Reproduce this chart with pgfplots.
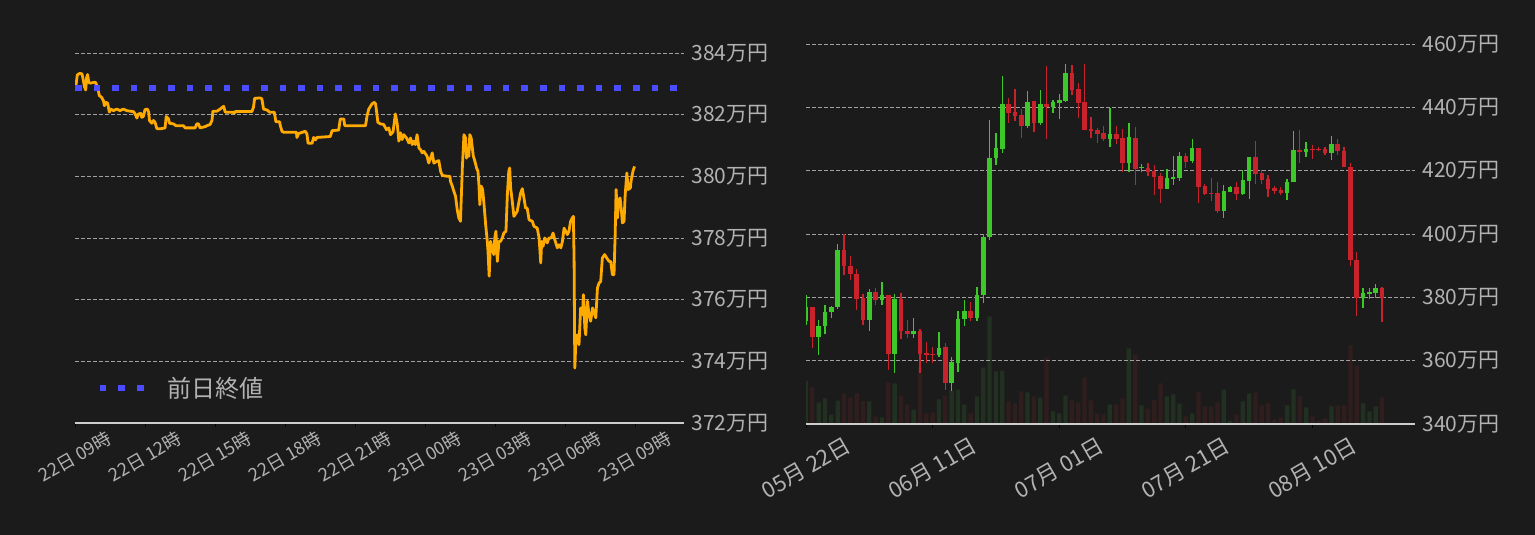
\documentclass[border=0pt]{standalone}
\usepackage{pgfplots}
\pgfplotsset{compat=1.18}
\usepackage{pgfplotstable}
\usepackage{fontspec}
\setmainfont{Noto Sans CJK JP}
\definecolor{bg}{RGB}{27,27,27}
\definecolor{lbl}{RGB}{178,178,178}
\definecolor{gridc}{RGB}{160,160,160}
\definecolor{axc}{RGB}{205,205,205}
\definecolor{orng}{RGB}{255,170,0}
\definecolor{blu}{RGB}{75,75,255}
\definecolor{cgreen}{RGB}{60,200,40}
\definecolor{cred}{RGB}{200,35,45}
\definecolor{vgreen}{RGB}{33,48,33}
\definecolor{vred}{RGB}{48,30,30}

\pgfplotstableread{
h v
0.04 382.94
0.10 383.29
0.21 383.34
0.30 383.32
0.36 383.10
0.41 382.89
0.46 382.80
0.50 383.21
0.54 383.30
0.59 383.05
0.64 383.02
0.86 383.05
0.90 383.02
1.00 382.78
1.04 382.62
1.14 382.56
1.22 382.45
1.26 382.29
1.33 382.40
1.40 382.37
1.47 382.08
1.53 382.18
1.65 382.13
1.79 382.18
1.93 382.13
2.07 382.18
2.22 382.13
2.36 382.11
2.50 382.10
2.58 382.02
2.65 381.89
2.72 382.02
2.82 382.04
2.86 381.91
2.93 381.94
3.00 382.16
3.10 382.18
3.16 382.08
3.19 381.81
3.29 381.72
3.36 381.81
3.43 381.75
3.51 381.54
3.65 381.54
3.86 381.57
3.91 381.94
4.01 381.86
4.05 381.72
4.22 381.70
4.33 381.64
4.65 381.64
4.72 381.57
5.15 381.57
5.22 381.70
5.29 381.70
5.36 381.57
5.58 381.61
5.65 381.64
5.79 381.68
5.87 381.81
5.91 382.11
6.08 382.11
6.22 382.18
6.37 382.27
6.44 382.08
6.77 382.08
6.82 382.04
6.87 382.10
7.58 382.10
7.65 382.24
7.70 382.53
7.94 382.54
8.01 382.51
8.08 382.18
8.23 382.15
8.34 382.08
8.54 382.08
8.61 381.77
8.77 381.77
8.80 381.64
8.87 381.46
8.94 381.43
9.49 381.43
9.51 381.26
9.59 381.39
9.87 381.46
9.94 381.37
9.99 381.07
10.16 381.07
10.23 381.26
10.30 381.18
10.37 381.26
10.94 381.29
11.02 381.48
11.30 381.50
11.37 381.86
11.52 381.86
11.56 381.64
12.45 381.64
12.52 381.97
12.59 382.18
12.73 382.35
12.83 382.40
12.88 382.35
12.92 382.13
12.98 381.75
13.09 381.70
13.23 381.68
13.35 381.51
13.45 381.57
13.52 381.35
13.63 381.44
13.73 382.02
13.81 381.70
13.88 381.14
13.95 381.41
14.02 381.19
14.09 381.35
14.21 381.24
14.31 381.08
14.38 381.24
14.45 381.03
14.52 381.14
14.59 381.03
14.66 381.35
14.74 380.92
14.81 380.86
14.88 380.76
14.95 380.81
15.09 380.65
15.16 380.43
15.24 380.59
15.31 380.76
15.38 380.43
15.52 380.49
15.59 380.51
15.67 380.16
15.74 380.03
15.95 380.00
16.07 380.00
16.09 379.84
16.17 379.68
16.24 379.51
16.31 379.35
16.38 378.92
16.45 378.65
16.52 378.54
16.60 380.27
16.67 381.35
16.74 381.24
16.78 380.59
16.85 380.92
16.88 380.65
16.92 381.35
16.98 381.24
17.07 380.65
17.12 380.54
17.21 380.27
17.27 380.16
17.31 379.73
17.35 379.08
17.41 379.68
17.47 379.57
17.53 379.08
17.60 378.43
17.67 377.89
17.70 377.57
17.75 376.76
17.81 377.89
17.88 377.68
17.95 377.46
17.99 378.00
18.04 378.22
18.10 377.24
18.17 377.89
18.24 377.89
18.31 378.00
18.38 378.16
18.47 378.22
18.53 379.41
18.59 380.16
18.63 380.27
18.67 379.62
18.74 379.19
18.81 378.70
18.95 378.86
19.03 379.19
19.10 379.46
19.17 379.60
19.24 379.30
19.31 378.97
19.38 378.97
19.46 378.59
19.60 378.54
19.67 378.38
19.81 378.32
19.89 378.00
19.96 377.19
20.00 377.89
20.06 377.73
20.13 378.00
20.24 377.84
20.31 378.00
20.41 378.00
20.49 378.16
20.56 377.95
20.67 377.68
20.74 377.78
20.82 377.68
20.89 377.89
20.96 378.32
21.03 378.22
21.10 378.11
21.17 378.22
21.24 378.54
21.31 378.65
21.36 378.70
21.39 377.24
21.42 373.78
21.46 374.54
21.53 374.86
21.60 374.54
21.67 375.73
21.75 375.51
21.79 376.16
21.85 375.08
21.89 374.86
21.96 375.95
22.03 375.51
22.10 375.30
22.18 375.73
22.32 375.41
22.39 376.38
22.46 376.54
22.53 376.59
22.60 377.35
22.70 377.46
22.79 377.35
22.89 377.24
22.96 377.24
23.03 376.81
23.10 376.81
23.15 378.11
23.19 379.57
23.25 378.65
23.29 379.19
23.36 379.30
23.42 378.86
23.46 378.49
23.53 378.54
23.58 379.41
23.65 380.11
23.71 379.57
23.80 379.62
23.83 379.84
23.91 380.16
23.98 380.32
}\pricetab

\pgfplotstableread{
d o h l c v
0 372.4 380.6 371.4 377.1 130
2 367.4 372.8 361.8 371.1 65
3 370.9 377.7 368.3 375.5 77
4 375.3 377.4 373.4 377.1 28
5 376.9 397.0 376.3 395.1 70
10 372.8 382.5 369.3 381.8 68
12 379.1 384.7 377.7 380.8 20
14 362.1 381.2 356.2 379.5 122
17 368.4 373.6 367.1 369.5 43
21 361.8 368.9 361.0 363.9 74
23 353.0 361.3 350.4 359.5 100
24 359.3 375.8 356.4 373.3 103
25 373.1 379.3 370.9 375.8 58
27 373.4 383.4 372.4 380.8 83
28 380.6 400.0 378.1 399.2 169
29 398.9 436.0 398.2 424.0 323
30 424.1 431.9 421.9 427.2 158
31 426.7 449.9 425.7 441.1 160
35 434.2 445.1 433.5 441.7 95
37 434.9 445.5 434.5 441.1 79
39 440.0 442.3 438.2 441.7 38
40 441.4 444.2 436.3 442.3 32
41 442.0 453.7 441.7 450.8 85
48 430.0 439.8 427.5 431.6 58
51 422.5 435.1 419.6 430.7 227
53 420.8 422.1 419.6 420.9 56
57 414.3 420.6 414.3 417.7 83
58 417.4 424.7 415.5 418.1 89
59 417.7 425.9 416.8 424.7 61
61 423.1 430.0 422.5 427.2 32
66 407.3 415.5 405.1 413.6 103
67 413.3 415.2 413.3 414.9 10
69 412.7 420.3 412.4 417.1 68
70 416.8 424.4 411.1 424.4 92
76 413.0 417.4 410.8 416.5 56
77 416.3 432.6 416.3 426.6 104
79 425.8 429.2 424.4 426.9 50
83 425.5 431.1 423.3 428.5 53
88 379.9 383.1 376.5 381.5 62
89 381.2 383.1 379.5 381.8 38
90 381.5 384.3 379.8 383.1 53
}\greentab

\pgfplotstableread{
d o h l c v
1 377.1 377.1 363.9 367.4 110
6 395.1 400.1 387.0 389.8 92
7 390.0 393.2 385.4 387.4 80
8 387.5 388.8 376.0 379.5 92
9 379.8 381.2 371.2 372.8 68
11 381.8 383.1 377.5 379.1 23
13 380.8 380.8 357.1 362.1 124
15 379.5 381.5 366.7 369.3 85
16 369.5 372.7 367.1 368.4 58
18 369.5 370.1 356.0 362.1 170
19 362.3 366.0 359.2 361.8 32
20 362.0 364.4 359.2 361.9 34
22 364.2 365.5 350.8 353.0 85
26 375.8 378.4 372.4 373.4 32
32 441.1 442.9 435.2 438.3 68
33 438.5 445.8 435.8 437.4 62
34 437.6 439.5 430.4 434.2 98
36 442.0 442.0 432.3 434.9 83
38 441.1 453.0 430.1 440.1 200
42 450.8 453.3 443.9 445.5 71
43 445.8 447.7 436.6 441.4 65
44 441.7 453.7 432.9 432.9 140
45 433.2 437.0 430.3 432.5 71
46 432.9 433.5 428.8 431.6 32
47 431.9 434.1 429.4 430.0 29
49 431.6 434.1 428.5 430.0 58
50 430.3 433.2 419.6 422.5 76
52 430.3 433.8 415.5 420.6 209
54 420.9 422.5 418.4 419.6 46
55 419.9 421.8 412.4 418.1 71
56 418.4 419.3 409.9 414.3 122
60 424.7 425.6 420.9 422.8 23
62 427.2 427.2 409.9 414.9 95
63 415.2 415.9 412.4 412.7 52
64 413.0 417.7 410.5 412.8 52
65 413.0 416.5 406.7 407.3 65
68 414.9 416.5 410.8 412.7 29
71 424.4 429.4 415.9 419.0 95
72 419.3 420.3 415.9 417.1 56
73 417.4 418.7 411.8 414.3 62
74 414.6 415.2 412.7 413.6 14
75 414.0 414.9 412.4 413.0 20
78 426.6 432.9 422.3 425.8 83
80 426.9 428.2 423.8 426.7 23
81 426.9 427.5 426.1 426.7 11
82 426.9 427.6 425.1 425.5 17
84 428.5 430.1 424.8 426.1 55
85 426.3 427.6 421.1 421.1 56
86 421.3 422.5 389.8 391.7 236
87 391.9 394.4 374.0 379.9 174
91 383.1 383.4 372.1 379.9 80
}\redtab

\pgfplotsset{
  chartbase/.style={
    scale only axis, anchor=south west,
    axis x line*=bottom, axis y line*=right,
    y axis line style={draw=none},
    x axis line style={-, color=axc, line width=2.2pt},
    ymajorgrids,
    grid style={color=gridc, line width=0.8pt, dash pattern=on 4pt off 2pt},
    yticklabel pos=right,
    ytick style={draw=none},
    xtick style={color=black, line width=1pt},
    major tick length=4pt, tick align=outside,
    ticklabel style={color=lbl},
    yticklabel style={font=\fontsize{21}{21}\selectfont, anchor=west},
  },
  candle/.style n args={2}{draw=none, mark=none, forget plot,
    error bars/.cd, y dir=plus, y explicit, error mark=none,
    error bar style={draw=#1, line width=#2, line cap=butt}},
}

\begin{document}
\begin{tikzpicture}
\fill[bg] (0pt,0pt) rectangle (1535pt,535pt);

% ---------- left: intraday ----------
\begin{axis}[chartbase,
  at={(75pt,112pt)}, width=609pt, height=383pt,
  xmin=0, xmax=26.1, ymin=372, ymax=384.42,
  xtick={0,3,...,24},
  xticklabels={22日 09時,22日 12時,22日 15時,22日 18時,22日 21時,23日 00時,23日 03時,23日 06時,23日 09時},
  xticklabel style={font=\fontsize{18}{18}\selectfont, rotate=30, anchor=center},
  xticklabel shift=30pt,
  ytick={372,374,...,384},
  yticklabels={372万円,374万円,376万円,378万円,380万円,382万円,384万円},
  legend style={at={(0.0345,0.0914)}, anchor=west, draw=none, fill=none,
    inner sep=0pt, font=\fontsize{24}{24}\selectfont, text=lbl,
    /tikz/every odd column/.append style={column sep=18pt}},
  legend image code/.code={\draw[#1, line width=6.6pt, dash pattern=on 6.6pt off 12.2pt] (0pt,0pt) -- (44.6pt,0pt);},
]
\addplot[orng, line width=2.8pt, line join=round, forget plot] table[x=h, y=v] {\pricetab};
\addplot[blu, line width=6.6pt, dash pattern=on 6.6pt off 12pt] coordinates {(0,382.86) (26.1,382.86)};
\addlegendentry{前日終値}
\end{axis}

% ---------- right: volume (behind) ----------
\begin{axis}[
  scale only axis, anchor=south west, hide axis,
  at={(806pt,111pt)}, width=609pt, height=386pt,
  xmin=0, xmax=96.2, ymin=0, ymax=1158,
]
\addplot[ybar, bar shift=0pt, bar width=4.3pt, fill=vgreen, draw=none] table[x=d, y=v] {\greentab};
\addplot[ybar, bar shift=0pt, bar width=4.3pt, fill=vred, draw=none] table[x=d, y=v] {\redtab};
\end{axis}

% ---------- right: daily candles ----------
\begin{axis}[chartbase,
  at={(806pt,111pt)}, width=609pt, height=386pt,
  xmin=0, xmax=96.2, ymin=340, ymax=461.9,
  xtick={0,20,40,60,80},
  xticklabels={05月 22日,06月 11日,07月 01日,07月 21日,08月 10日},
  xticklabel style={font=\fontsize{22}{22}\selectfont, rotate=30, anchor=center},
  xticklabel shift=40pt,
  ytick={340,360,...,460},
  yticklabels={340万円,360万円,380万円,400万円,420万円,440万円,460万円},
]
% wicks: from low, length high-low
\addplot[candle={cgreen}{1.3pt}]
  table[x=d, y=l, y error expr={\thisrow{h}-\thisrow{l}}] {\greentab};
\addplot[candle={cred}{1.3pt}]
  table[x=d, y=l, y error expr={\thisrow{h}-\thisrow{l}}] {\redtab};
% bodies: from the lower of open/close, length |close-open|
\addplot[candle={cgreen}{4.6pt}]
  table[x=d, y expr={min(\thisrow{o},\thisrow{c})}, y error expr={max(abs(\thisrow{c}-\thisrow{o}),0.3)}] {\greentab};
\addplot[candle={cred}{4.6pt}]
  table[x=d, y expr={min(\thisrow{o},\thisrow{c})}, y error expr={max(abs(\thisrow{c}-\thisrow{o}),0.3)}] {\redtab};
\end{axis}
\end{tikzpicture}
\end{document}
